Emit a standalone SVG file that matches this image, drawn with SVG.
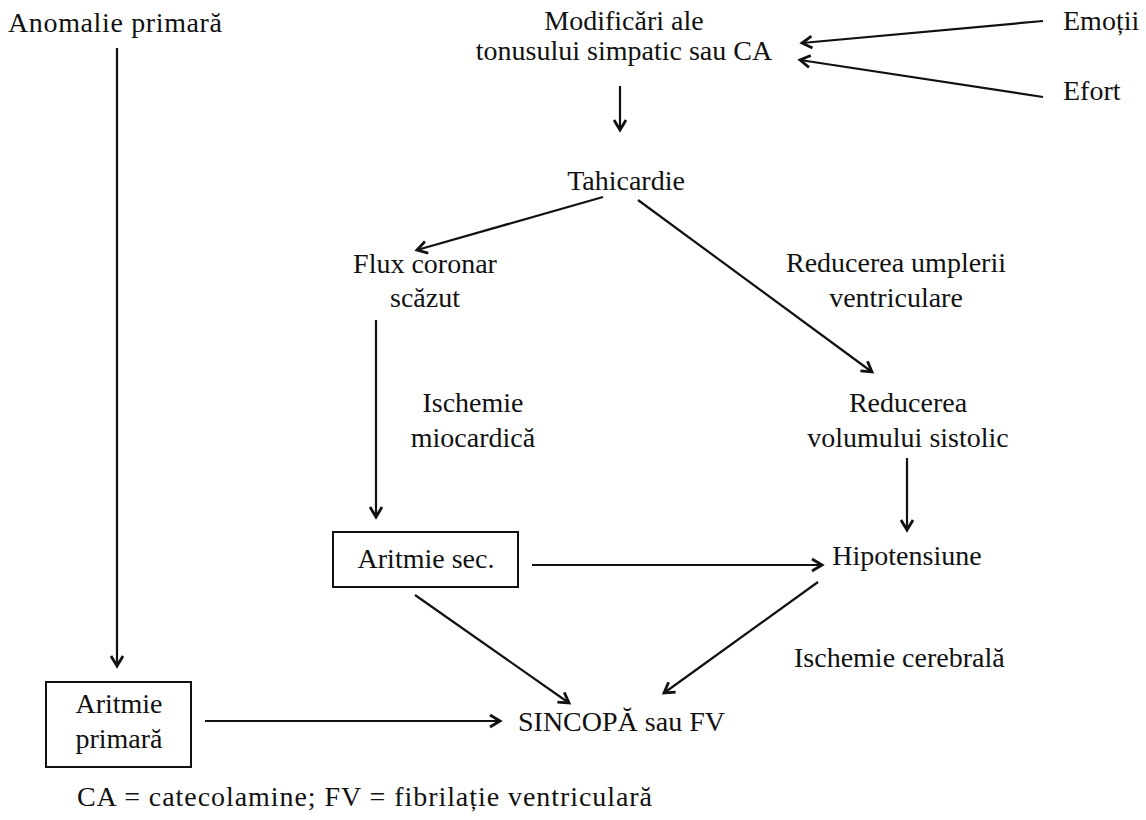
<svg xmlns="http://www.w3.org/2000/svg" width="1146" height="820" viewBox="0 0 1146 820">
  <defs>
    <style>
      text { font-family: 'Liberation Serif', 'DejaVu Serif', serif; font-size: 28px; fill: #111; }
      .c { text-anchor: middle; }
      .box { fill: none; stroke: #111; stroke-width: 2; }
      .edge { fill: none; stroke: #111; stroke-width: 2.2; marker-end: url(#arrow); }
    </style>
    <marker id="arrow" viewBox="0 0 16 16" refX="13" refY="8" markerWidth="16" markerHeight="16" markerUnits="userSpaceOnUse" orient="auto">
      <path d="M3,2 L13,8 L3,14" fill="none" stroke="#111" stroke-width="2.8" stroke-linejoin="miter"/>
    </marker>
  </defs>
  <rect width="1146" height="820" fill="#fff"/>

  <g id="connectors">
    <line class="edge" x1="117" y1="48" x2="117" y2="666"/>
    <line class="edge" x1="1043" y1="21" x2="802" y2="43"/>
    <line class="edge" x1="1043" y1="97" x2="800" y2="60"/>
    <line class="edge" x1="620" y1="86" x2="620" y2="130"/>
    <line class="edge" x1="603" y1="197" x2="417" y2="250"/>
    <line class="edge" x1="638" y1="200" x2="872" y2="372"/>
    <line class="edge" x1="376" y1="320" x2="376" y2="517"/>
    <line class="edge" x1="907" y1="458" x2="907" y2="530"/>
    <line class="edge" x1="532" y1="565" x2="822" y2="565"/>
    <line class="edge" x1="415" y1="595" x2="569" y2="703"/>
    <line class="edge" x1="818" y1="582" x2="664" y2="693"/>
    <line class="edge" x1="205" y1="721" x2="500" y2="721"/>
  </g>

  <g id="anomalie-primara"><text x="8" y="32" textLength="214">Anomalie primară</text></g>
  <g id="modificari">
    <text class="c" x="624" y="30">Modificări ale</text>
    <text class="c" x="624" y="60">tonusului simpatic sau CA</text>
  </g>
  <g id="emotii"><text x="1063" y="30">Emoții</text></g>
  <g id="efort"><text x="1063" y="100">Efort</text></g>
  <g id="tahicardie"><text class="c" x="626" y="190">Tahicardie</text></g>
  <g id="flux-coronar">
    <text class="c" x="425" y="273">Flux coronar</text>
    <text class="c" x="425" y="307">scăzut</text>
  </g>
  <g id="reducerea-umplerii">
    <text class="c" x="896" y="272">Reducerea umplerii</text>
    <text class="c" x="896" y="307">ventriculare</text>
  </g>
  <g id="ischemie-miocardica">
    <text class="c" x="473" y="412">Ischemie</text>
    <text class="c" x="473" y="447">miocardică</text>
  </g>
  <g id="reducerea-volumului">
    <text class="c" x="908" y="412">Reducerea</text>
    <text class="c" x="908" y="447">volumului sistolic</text>
  </g>
  <g id="aritmie-sec">
    <rect class="box" x="333" y="532" width="185" height="55"/>
    <text class="c" x="426" y="568">Aritmie sec.</text>
  </g>
  <g id="hipotensiune"><text class="c" x="907" y="565">Hipotensiune</text></g>
  <g id="ischemie-cerebrala"><text x="794" y="667">Ischemie cerebrală</text></g>
  <g id="aritmie-primara">
    <rect class="box" x="46" y="682" width="145" height="85"/>
    <text class="c" x="119" y="713">Aritmie</text>
    <text class="c" x="119" y="748">primară</text>
  </g>
  <g id="sincopa"><text x="518" y="731">SINCOPĂ sau FV</text></g>
  <g id="legend"><text x="77" y="806" textLength="575" lengthAdjust="spacing">CA = catecolamine; FV = fibrilație ventriculară</text></g>
</svg>
